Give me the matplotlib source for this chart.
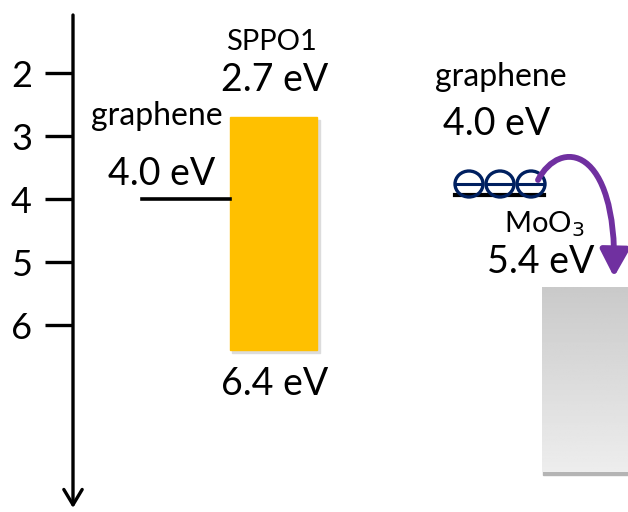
import numpy as np
import matplotlib.pyplot as plt
from matplotlib.patches import Rectangle, Ellipse, FancyArrowPatch, ArrowStyle
from matplotlib.path import Path

plt.rcParams['font.family'] = ['Lato', 'DejaVu Sans']

# energy levels (eV, below vacuum)
axis_ticks = [2, 3, 4, 5, 6]
sppo1_lumo = 2.7
sppo1_homo = 6.4
graphene_wf = 4.0
moo3_wf = 5.4
moo3_depth = 8.33  # bottom edge of the MoO3 block as drawn
n_electrons = 3

# pixel <-> energy mapping for a 628x512 canvas
PX_PER_EV = 63.0
Y0_PX = 73.0  # pixel row of the 2 eV tick


def ev(ypx):
    return 2 + (ypx - Y0_PX) / PX_PER_EV


fig = plt.figure(figsize=(6.28, 5.12), dpi=100)
ax = fig.add_axes([0, 0, 1, 1])
ax.set_xlim(0, 628)
ax.set_ylim(ev(512), ev(0))
ax.axis('off')

# vertical energy axis with arrow
ax.annotate('', xy=(73, ev(508)), xytext=(73, ev(15)),
            arrowprops=dict(arrowstyle=ArrowStyle('->', head_length=0.5, head_width=0.3),
                            lw=2.4, color='black', shrinkA=0, shrinkB=0,
                            mutation_scale=22))
for t in axis_ticks:
    ax.plot([45, 73], [t, t], color='black', lw=2.4, solid_capstyle='butt')
    ax.text(32, t + 0.06, str(t), ha='right', va='center', fontsize=26)

# SPPO1 bar
ax.add_patch(Rectangle((232, sppo1_lumo + 0.04), 88, sppo1_homo - sppo1_lumo,
                       color='#dcdcdc', zorder=1))
ax.add_patch(Rectangle((230, sppo1_lumo), 87, sppo1_homo - sppo1_lumo,
                       color='#FFC000', zorder=2))
ax.text(271, ev(50), 'SPPO1', ha='center', va='baseline', fontsize=21)
ax.text(275, ev(91), f'{sppo1_lumo} eV', ha='center', va='baseline', fontsize=27)
ax.text(275, ev(395), f'{sppo1_homo} eV', ha='center', va='baseline', fontsize=27)

# graphene level (left)
ax.plot([142, 230], [graphene_wf, graphene_wf], color='black', lw=2.6)
ax.text(157, ev(125), 'graphene', ha='center', va='baseline', fontsize=23)
ax.text(162, ev(185), f'{graphene_wf} eV', ha='center', va='baseline', fontsize=27)

# graphene level (right) with electrons
ax.plot([455, 544], [graphene_wf - 0.06, graphene_wf - 0.06], color='black', lw=3)
ax.text(501, ev(86), 'graphene', ha='center', va='baseline', fontsize=23)
ax.text(497, ev(135), f'{graphene_wf} eV', ha='center', va='baseline', fontsize=27)
for i in range(n_electrons):
    cx = 469 + 31 * i
    cy = ev(184)
    ax.add_patch(Ellipse((cx, cy), 28, 26 / PX_PER_EV, fill=False,
                         edgecolor='#002060', lw=2.4, zorder=4))
    ax.plot([cx - 13, cx + 13], [cy, cy], color='#002060', lw=2.2, zorder=4)

# MoO3 block with gradient
ax.add_patch(Rectangle((543, moo3_wf + 0.05), 100, moo3_depth - moo3_wf,
                       color='#b4b4b4', zorder=1))
grad = np.linspace(0.79, 0.93, 100).reshape(-1, 1)
ax.imshow(grad, cmap='gray', vmin=0, vmax=1, aspect='auto',
          extent=(542, 640, moo3_depth, moo3_wf), origin='upper', zorder=2)
ax.set_xlim(0, 628)
ax.set_ylim(ev(512), ev(0))
ax.text(544, ev(232), r'MoO$_3$', ha='center', va='baseline', fontsize=21)
ax.text(541, ev(273), f'{moo3_wf} eV', ha='center', va='baseline', fontsize=27)

# electron transfer arrow
verts = [(538, ev(180)), (560, ev(138)), (617, ev(145)), (614, ev(277))]
codes = [Path.MOVETO, Path.CURVE4, Path.CURVE4, Path.CURVE4]
ax.add_patch(FancyArrowPatch(path=Path(verts, codes),
                             arrowstyle=ArrowStyle('-|>', head_length=0.65, head_width=0.35),
                             mutation_scale=25, lw=4.2, color='#7030A0',
                             shrinkA=0, shrinkB=0, zorder=5))

fig.savefig('out.png', dpi=100)
